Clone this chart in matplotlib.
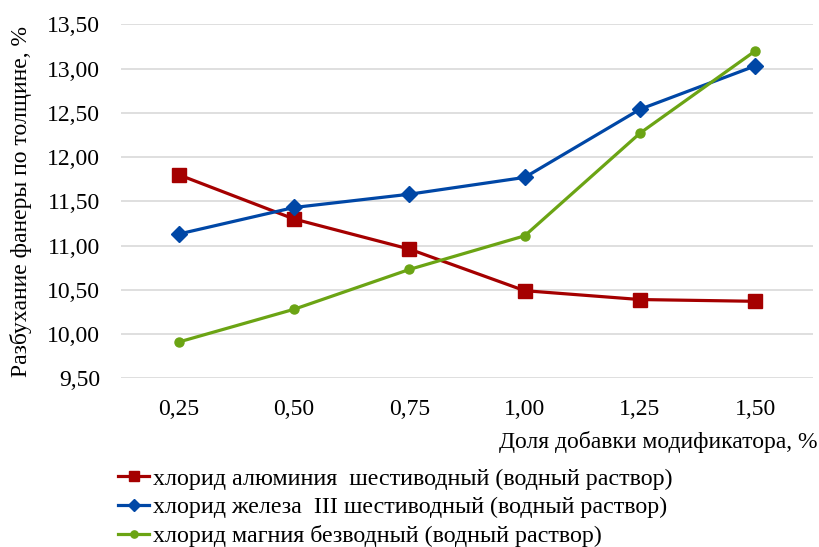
import matplotlib.pyplot as plt

plt.rcParams['font.family'] = ['Liberation Serif', 'DejaVu Serif']

# доля добавки модификатора, %
doses = ['0,25', '0,50', '0,75', '1,00', '1,25', '1,50']

# разбухание по толщине, %
al_cl = [11.80, 11.30, 10.96, 10.49, 10.39, 10.37]
fe_cl = [11.13, 11.43, 11.58, 11.77, 12.54, 13.03]
mg_cl = [9.91, 10.28, 10.73, 11.11, 12.27, 13.20]

labels = ['хлорид алюминия  шестиводный (водный раствор)',
          'хлорид железа  III шестиводный (водный раствор)',
          'хлорид магния безводный (водный раствор)']

yticks = [9.5, 10.0, 10.5, 11.0, 11.5, 12.0, 12.5, 13.0, 13.5]

fig = plt.figure(figsize=(8.2, 5.47), dpi=100)
ax = fig.add_axes([0.1476, 0.3084, 0.8439, 0.6472])

x = range(len(doses))
ax.plot(x, al_cl, color='#A50000', lw=2.3, marker='s', ms=9.5, label=labels[0])
ax.plot(x, fe_cl, color='#0047A6', lw=2.3, marker='D', ms=8, label=labels[1])
ax.plot(x, mg_cl, color='#6BA414', lw=2.3, marker='o', ms=6.5, label=labels[2])

ax.set_xlim(-0.5, len(doses) - 0.5)
ax.set_ylim(9.5, 13.5)
ax.set_xticks(list(x))
ax.set_xticklabels(doses)
ax.set_yticks(yticks)
ax.set_yticklabels([('%.2f' % v).replace('.', ',') for v in yticks])
ax.tick_params(length=0, labelsize=17)
ax.tick_params(axis='y', pad=15)
ax.tick_params(axis='x', pad=15)
ax.grid(axis='y', color='#D9D9D9', lw=1.2)
ax.set_axisbelow(True)
for s in ax.spines.values():
    s.set_visible(False)

ax.set_ylabel('Разбухание фанеры по толщине, %', fontsize=17, labelpad=11)
fig.text(0.997, 1 - 442 / 547, 'Доля добавки модификатора, %', fontsize=17,
         ha='right', va='center')

fig.legend(loc='upper left', bbox_to_anchor=(118 / 820, 1 - 468 / 547),
           frameon=False, fontsize=17.3, handlelength=1.3, handletextpad=0.15,
           labelspacing=0.28, borderpad=0, borderaxespad=0, markerscale=0.8)

fig.savefig('out.png', dpi=100)
